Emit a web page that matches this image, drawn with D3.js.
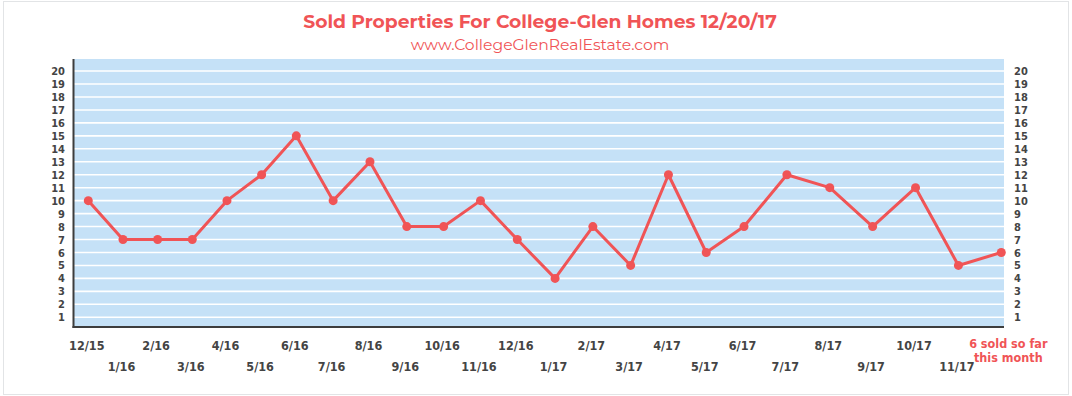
<!DOCTYPE html>
<html>
<head>
<meta charset="utf-8">
<script src="https://cdn.jsdelivr.net/npm/d3@7"></script>
<style>
  body { margin: 0; background: #fff; }
  .tick-label { font-family: "DejaVu Sans Condensed", "DejaVu Sans", sans-serif; font-stretch: condensed; font-weight: bold; fill: #444; }
</style>
</head>
<body>
<div id="chart"></div>
<script>
// chart values
const MONTHS = ["12/15", "1/16", "2/16", "3/16", "4/16", "5/16", "6/16", "7/16", "8/16", "9/16",
  "10/16", "11/16", "12/16", "1/17", "2/17", "3/17", "4/17", "5/17", "6/17", "7/17",
  "8/17", "9/17", "10/17", "11/17"];
const CURRENT_LABEL = ["6 sold so far", "this month"];
const SOLD = [10, 7, 7, 7, 10, 12, 15, 10, 13, 8, 8, 10, 7, 4, 8, 5, 12, 6, 8, 12, 11, 8, 11, 5, 6];
const Y_TICKS = [1, 2, 3, 4, 5, 6, 7, 8, 9, 10, 11, 12, 13, 14, 15, 16, 17, 18, 19, 20];

const WIDTH = 1072;
const HEIGHT = 396;
const RED = "#f05456";
const plot = { left: 74, right: 1004, top: 59, bottom: 327 };

const svg = d3.select("#chart")
  .append("svg")
  .attr("width", WIDTH)
  .attr("height", HEIGHT);

// outer frame
svg.append("rect")
  .attr("x", 3.5).attr("y", 1.5)
  .attr("width", WIDTH - 7).attr("height", HEIGHT - 3)
  .attr("fill", "none")
  .attr("stroke", "#e2e4e6");

// titles
svg.append("text")
  .attr("x", 540).attr("y", 28)
  .attr("text-anchor", "middle")
  .attr("font-family", "Montserrat, 'Open Sans', sans-serif")
  .attr("font-weight", 700)
  .attr("font-size", 18.7)
  .attr("fill", RED)
  .text("Sold Properties For College-Glen Homes 12/20/17");

svg.append("text")
  .attr("x", 540).attr("y", 50)
  .attr("text-anchor", "middle")
  .attr("font-family", "Montserrat, 'Open Sans', sans-serif")
  .attr("font-size", 15.6)
  .attr("fill", RED)
  .text("www.CollegeGlenRealEstate.com");

// scales: months are not evenly spaced in the original, so use a polylinear scale
const xScale = d3.scaleLinear()
  .domain([0, 6, 12, 18, 24])
  .range([88.3, 296.3, 517.3, 744, 1001.3]);
const yScale = d3.scaleLinear()
  .domain([0.25, 20.93])
  .range([plot.bottom, plot.top]);

// background
svg.append("rect")
  .attr("x", plot.left).attr("y", plot.top)
  .attr("width", plot.right - plot.left)
  .attr("height", plot.bottom - plot.top)
  .attr("fill", "#c5e1f7");

// gridlines
svg.append("g")
  .selectAll("line")
  .data(Y_TICKS)
  .join("line")
  .attr("x1", plot.left).attr("x2", plot.right)
  .attr("y1", d => yScale(d)).attr("y2", d => yScale(d))
  .attr("stroke", "#fff")
  .attr("stroke-width", 1.6);

// left axis labels
const leftAxis = svg.append("g")
  .attr("transform", `translate(${plot.left - 9},0)`)
  .call(d3.axisLeft(yScale).tickValues(Y_TICKS).tickSize(0).tickPadding(0));
leftAxis.select(".domain").remove();
leftAxis.selectAll("text").attr("class", "tick-label").attr("font-size", 11);

// right axis labels
const rightAxis = svg.append("g")
  .attr("transform", `translate(${plot.right + 10},0)`)
  .call(d3.axisRight(yScale).tickValues(Y_TICKS).tickSize(0).tickPadding(0));
rightAxis.select(".domain").remove();
rightAxis.selectAll("text").attr("class", "tick-label").attr("font-size", 11);

// dark axis lines
svg.append("line")
  .attr("x1", plot.left - 0.5).attr("x2", plot.left - 0.5)
  .attr("y1", plot.top).attr("y2", plot.bottom + 1)
  .attr("stroke", "#3d3d3d").attr("stroke-width", 2);
svg.append("line")
  .attr("x1", plot.left - 1.5).attr("x2", plot.right)
  .attr("y1", plot.bottom).attr("y2", plot.bottom)
  .attr("stroke", "#3d3d3d").attr("stroke-width", 2);

// month labels, alternating rows
svg.append("g")
  .selectAll("text")
  .data(MONTHS)
  .join("text")
  .attr("class", "tick-label")
  .attr("font-size", 12.5)
  .attr("text-anchor", "middle")
  .attr("x", (d, i) => xScale(i) - 1.5)
  .attr("y", (d, i) => (i % 2 === 0 ? 349.5 : 371))
  .text(d => d);

svg.append("g")
  .selectAll("text")
  .data(CURRENT_LABEL)
  .join("text")
  .attr("class", "tick-label")
  .style("fill", RED)
  .attr("font-size", 12.5)
  .attr("text-anchor", "middle")
  .attr("x", xScale(SOLD.length - 1) + 7)
  .attr("y", (d, i) => 348 + i * 14)
  .text(d => d);

// line + points
const line = d3.line()
  .x((d, i) => xScale(i))
  .y(d => yScale(d));

svg.append("path")
  .datum(SOLD)
  .attr("d", line)
  .attr("fill", "none")
  .attr("stroke", RED)
  .attr("stroke-width", 3)
  .attr("stroke-linejoin", "round");

svg.append("g")
  .selectAll("circle")
  .data(SOLD)
  .join("circle")
  .attr("cx", (d, i) => xScale(i))
  .attr("cy", d => yScale(d))
  .attr("r", 4.5)
  .attr("fill", RED);
</script>
</body>
</html>
